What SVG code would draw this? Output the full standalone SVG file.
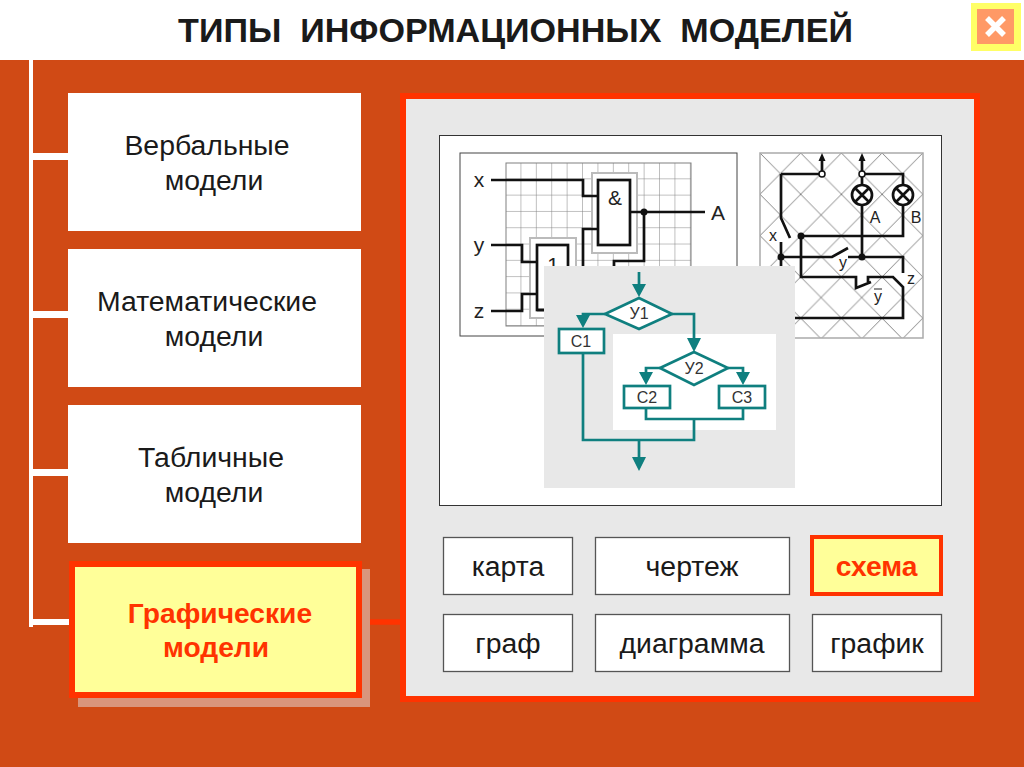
<svg xmlns="http://www.w3.org/2000/svg" width="1024" height="767" viewBox="0 0 1024 767">
<style>
text{font-family:"Liberation Sans",Arial,sans-serif;fill:#1a1a1a;text-anchor:middle;white-space:pre}
.m{font-size:28.4px}
.b{font-size:28.400px}
.r{font-size:28.200px;font-weight:bold;fill:#ff3300}
.s{font-size:21px;fill:#222}
.e{font-size:16px;fill:#222}
.f{font-size:16px;fill:#333}
.box{fill:#fff}
.btn{fill:#fff;stroke:#555;stroke-width:1.300}
.w{fill:none;stroke:#111;stroke-width:2.700}
.t{fill:none;stroke:#0f7f7f;stroke-width:2.700}
.tb{fill:#fff;stroke:#0f7f7f;stroke-width:2.700}
.h{fill:#0f7f7f}
.l{fill:none;stroke:#fff}
</style>
<defs>
<pattern id="grid" x="506" y="163" width="15.4" height="16.3" patternUnits="userSpaceOnUse"><path d="M15.4 0V16.3M0 16.3H15.4" fill="none" stroke="#808080" stroke-width="1"/></pattern>
<pattern id="lat" x="760" y="153" width="40.7" height="41.3" patternUnits="userSpaceOnUse"><path d="M0 0L40.7 41.3M40.7 0L0 41.3" fill="none" stroke="#666" stroke-width="0.8"/></pattern>
</defs>
<rect width="1024" height="767" fill="#fff"/>
<rect y="60" width="1024" height="707" fill="#d04a15"/>
<text x="515.500" y="42" style="font-size:34.100px;font-weight:bold">ТИПЫ  ИНФОРМАЦИОННЫХ  МОДЕЛЕЙ</text>
<g id="close">
<rect x="971" y="3" width="50" height="48" fill="#ffff66"/>
<rect x="977" y="9" width="37" height="35" fill="#ff9966"/>
<path d="M987 18L1004 35M1004 18L987 35" stroke="#fff" stroke-width="5.500" fill="none"/>
</g>
<g id="connectors">
<path class="l" stroke-width="4" d="M31 60V627"/>
<path class="l" stroke-width="7" d="M31 156.500H68M31 314.500H68M31 472.500H68"/>
<path class="l" stroke-width="6" d="M31 622H69"/>
<path d="M370 622H402" stroke="#ff3300" stroke-width="5.500" fill="none"/>
</g>
<g id="node-verbal"><rect class="box" x="68" y="93" width="293" height="138"/>
<text class="m" x="207" y="155">Вербальные</text><text class="m" x="214" y="190">модели</text></g>
<g id="node-math"><rect class="box" x="68" y="249" width="293" height="138"/>
<text class="m" x="207" y="311">Математические</text><text class="m" x="214" y="346">модели</text></g>
<g id="node-table"><rect class="box" x="68" y="405" width="293" height="138"/>
<text class="m" x="211" y="467">Табличные</text><text class="m" x="214" y="502">модели</text></g>
<g id="node-graphic">
<rect x="78" y="569" width="292" height="138" fill="#d9957c"/>
<rect x="72" y="564" width="287" height="131" fill="#ffff99" stroke="#ff3300" stroke-width="6"/>
<text class="r" x="220" y="623">Графические</text>
<text class="r" x="216" y="657">модели</text></g>
<g id="panel">
<rect x="403" y="96" width="574" height="603" fill="#e8e8e8" stroke="#ff3300" stroke-width="6"/>
<rect x="439.500" y="135.500" width="502" height="370" fill="#fff" stroke="#333" stroke-width="1"/>
</g>
<g id="logic-scheme">
<rect x="460" y="153" width="277" height="183" fill="#fff" stroke="#444" stroke-width="1"/>
<rect x="506" y="163" width="185" height="163" fill="url(#grid)" stroke="#808080" stroke-width="1"/>
<rect x="592" y="173" width="45" height="80" fill="#fff" stroke="#bbb" stroke-width="2"/>
<rect x="530" y="238" width="46" height="80" fill="#fff" stroke="#bbb" stroke-width="2"/>
<rect x="598" y="180" width="32" height="65" fill="#fff" stroke="#111" stroke-width="2.700"/>
<rect x="537" y="245" width="31" height="65" fill="#fff" stroke="#111" stroke-width="2.700"/>
<path class="w" d="M491 180H583V196H598M598 229H583V270M630 212H705M644 212V261H614V270M491 245H522V262H537M491 311H522V294H537M537 310H545"/>
<circle cx="644" cy="212" r="3.500" fill="#111"/>
<text class="s" x="479" y="187">x</text><text class="s" x="479" y="252">y</text><text class="s" x="479" y="318">z</text>
<text class="s" x="615" y="205">&amp;</text><text class="s" x="718" y="220">A</text><text class="s" x="553" y="272">1</text>
</g>
<g id="electric-scheme">
<rect x="760" y="153" width="163" height="185" fill="url(#lat)" stroke="#aaa" stroke-width="1.500"/>
<path class="w" d="M781 174H819M865 174H903V236H801M781 174V218L790 238M801 236V277H856V288L871 282M868 282V277H893L903 287V318H790M781 257H832L848 248M848 257H903V273M781 242V268M862 177V257M822 171V158M862 171V158"/>
<path d="M822 153l-3.500 8h7zM862 153l-3.500 8h7z" fill="#111"/>
<circle cx="822" cy="174" r="3" fill="#fff" stroke="#111" stroke-width="1.500"/>
<circle cx="862" cy="174" r="3" fill="#fff" stroke="#111" stroke-width="1.500"/>
<g fill="#fff" stroke="#111" stroke-width="2.700"><circle cx="862" cy="195" r="10"/><circle cx="903" cy="195" r="10"/></g>
<path class="w" d="M855 188L869 202M869 188L855 202M896 188L910 202M910 188L896 202"/>
<circle cx="801" cy="236" r="3.500" fill="#111"/><circle cx="781" cy="257" r="3.500" fill="#111"/><circle cx="862" cy="257" r="3.500" fill="#111"/>
<text class="e" x="773" y="241">x</text><text class="e" x="843" y="268">y</text><text class="e" x="878" y="302">y</text><text class="e" x="911" y="284">z</text><text class="e" x="875" y="223">A</text><text class="e" x="916" y="223">B</text>
<path d="M874 289H882" stroke="#222" fill="none"/>
</g>
<g id="flowchart">
<rect x="544" y="266" width="251" height="222" fill="#e8e8e8"/>
<rect x="613" y="334" width="163" height="96" fill="#fff"/>
<path class="t" d="M639 272V290M605 314H583V320M672 314H694V342M660 368H646V376M728 368H743V376M646 408V419H743V408M694 419V440H583V353M639 440V460"/>
<path class="h" d="M632 284H646L639 297ZM576 315H590L583 328ZM687 338H701L694 352ZM639 372H653L646 385ZM736 372H750L743 385ZM632 457H646L639 471Z"/>
<path class="tb" d="M605 314L639 298L672 314L639 329Z"/>
<path class="tb" d="M660 368L694 352L728 368L694 385Z"/>
<rect class="tb" x="559" y="329" width="45" height="24"/>
<rect class="tb" x="624" y="386" width="46" height="22"/>
<rect class="tb" x="719" y="386" width="46" height="22"/>
<text class="f" x="639" y="319">У1</text><text class="f" x="694" y="374">У2</text>
<text class="f" x="581" y="347">С1</text><text class="f" x="647" y="403">С2</text><text class="f" x="742" y="403">С3</text>
</g>
<g id="btn-karta"><rect class="btn" x="443.500" y="537.500" width="129" height="57"/><text class="b" x="508" y="576">карта</text></g>
<g id="btn-chertezh"><rect class="btn" x="595.500" y="537.500" width="194" height="57"/><text class="b" x="692" y="576">чертеж</text></g>
<g id="btn-skhema"><rect x="812" y="537" width="129" height="57" fill="#ffff99" stroke="#ff3300" stroke-width="4"/><text class="r" x="876.500" y="576">схема</text></g>
<g id="btn-graf"><rect class="btn" x="443.500" y="614.500" width="129" height="57"/><text class="b" x="508" y="653">граф</text></g>
<g id="btn-diagramma"><rect class="btn" x="595.500" y="614.500" width="194" height="57"/><text class="b" x="692" y="653">диаграмма</text></g>
<g id="btn-grafik"><rect class="btn" x="812.500" y="614.500" width="129" height="57"/><text class="b" x="877" y="653">график</text></g>
</svg>
